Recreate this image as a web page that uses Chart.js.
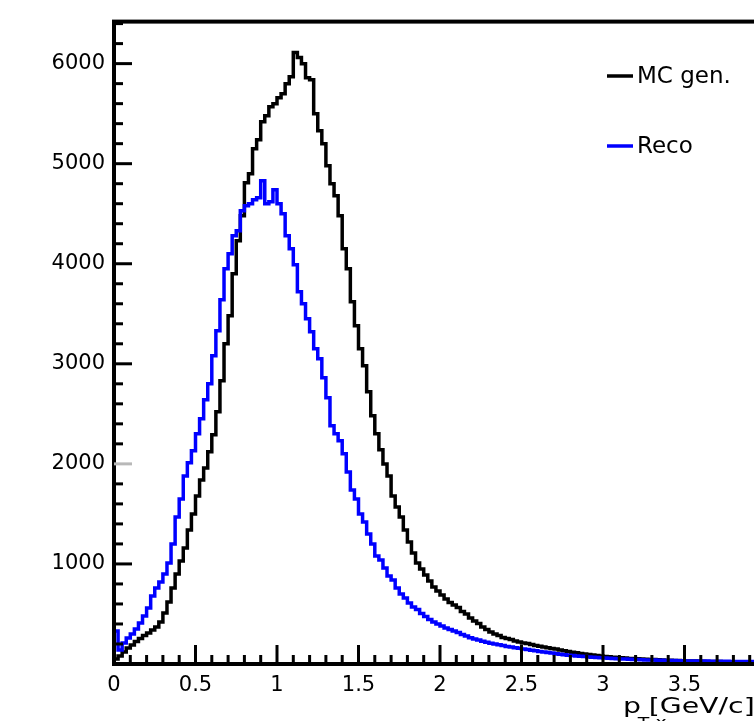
<!DOCTYPE html>
<html>
<head>
<meta charset="utf-8">
<script src="https://cdn.jsdelivr.net/npm/chart.js@4/dist/chart.umd.min.js"></script>
<style>
  html, body { margin: 0; padding: 0; background: #fff; overflow: hidden; width: 754px; height: 721px; }
  #wrap { position: absolute; left: 0; top: 0; width: 800px; height: 721px; }
</style>
</head>
<body>
<div id="wrap"><canvas id="c" width="800" height="721"></canvas></div>
<script>
// Histogram binning: 160 bins of 0.025 GeV/c from 0 to 4
const binWidth = 0.025;
const xMin = 0, xMax = 4;
const yMin = 0, yMax = 6420;

// Bin contents, generated-level spectrum
const mcGen = [
  25, 50, 80, 120, 160, 190, 225, 255, 285, 310,
  340, 370, 420, 510, 620, 760, 900, 1030, 1160, 1340,
  1500, 1680, 1840, 1960, 2120, 2290, 2520, 2830, 3200, 3480,
  3900, 4230, 4480, 4810, 4900, 5150, 5240, 5420, 5480, 5570,
  5600, 5660, 5700, 5800, 5870, 6110, 6060, 6000, 5860, 5840,
  5500, 5330, 5200, 4980, 4800, 4680, 4480, 4150, 3950, 3620,
  3380, 3150, 2980, 2720, 2480, 2300, 2140, 2000, 1880, 1680,
  1570, 1470, 1340, 1220, 1110, 1010, 950, 890, 830, 770,
  730, 690, 650, 615, 590, 565, 525, 500, 460, 430,
  405, 370, 345, 320, 300, 285, 265, 255, 245, 230,
  220, 210, 205, 195, 185, 178, 170, 162, 155, 150,
  140, 132, 125, 118, 112, 105, 100, 95, 90, 85,
  80, 76, 72, 68, 65, 62, 59, 56, 54, 52,
  50, 48, 46, 44, 42, 40, 38, 37, 35, 34,
  32, 31, 30, 29, 28, 27, 26, 25, 24, 24,
  23, 22, 21, 21, 20, 20, 19, 19, 18, 18
];

// Bin contents, reconstructed spectrum
const reco = [
  660, 330, 140, 210, 260, 300, 350, 410, 480, 560,
  680, 760, 820, 900, 1010, 1200, 1470, 1650, 1880, 2010,
  2130, 2300, 2450, 2640, 2800, 3080, 3330, 3640, 3950, 4100,
  4280, 4330, 4530, 4580, 4600, 4640, 4660, 4830, 4600, 4620,
  4740, 4600, 4500, 4280, 4150, 3990, 3720, 3600, 3450, 3320,
  3150, 3050, 2860, 2660, 2380, 2300, 2230, 2100, 1920, 1740,
  1650, 1500, 1420, 1300, 1200, 1080, 1040, 960, 880, 840,
  760, 700, 660, 610, 570, 545, 505, 475, 445, 420,
  400, 380, 360, 345, 330, 315, 295, 280, 262, 250,
  240, 228, 218, 208, 200, 192, 184, 176, 170, 163,
  157, 150, 144, 138, 132, 126, 120, 115, 110, 102,
  97, 92, 88, 84, 80, 77, 74, 71, 68, 65,
  62, 60, 57, 55, 53, 51, 49, 47, 46, 44,
  43, 41, 40, 39, 38, 37, 36, 35, 34, 33,
  32, 31, 31, 30, 30, 29, 29, 28, 28, 27,
  27, 27, 26, 26, 26, 25, 25, 25, 25, 24
];

const seriesLabels = ['MC gen.', 'Reco'];
const yTickValues = [1000, 2000, 3000, 4000, 5000, 6000];
const xTickValues = [0, 0.5, 1, 1.5, 2, 2.5, 3, 3.5];

// Turn bin contents into a step outline: rise from zero at the
// lower edge, one point per bin low edge, then the upper edge.
function histPoints(vals) {
  const pts = [{ x: xMin, y: 0 }];
  vals.forEach((v, i) => pts.push({ x: xMin + i * binWidth, y: v }));
  pts.push({ x: xMin + vals.length * binWidth, y: vals[vals.length - 1] });
  return pts;
}

const FONT = "'DejaVu Sans', sans-serif";

// Frame with inward ticks, drawn over the histograms
const framePlugin = {
  id: 'frame',
  afterDatasetsDraw(chart) {
    const { ctx, chartArea: a, scales } = chart;
    const xs = scales.x, ys = scales.y;
    ctx.save();
    ctx.strokeStyle = '#000';
    ctx.lineWidth = 4;
    ctx.strokeRect(a.left, a.top, a.right - a.left, a.bottom - a.top);
    ctx.lineWidth = 3;
    ctx.lineCap = 'butt';
    for (let k = 0; k * 200 <= yMax; k++) {
      const v = k * 200;
      const y = ys.getPixelForValue(v);
      const len = v % 1000 === 0 ? 18 : 9;
      ctx.strokeStyle = v === 2000 ? '#b8b8b8' : '#000';
      ctx.beginPath();
      ctx.moveTo(a.left, y);
      ctx.lineTo(a.left + len, y);
      ctx.stroke();
    }
    ctx.strokeStyle = '#000';
    for (let k = 0; k <= 40; k++) {
      const x = xs.getPixelForValue(k * 0.1);
      const len = k % 5 === 0 ? 19 : 9;
      ctx.beginPath();
      ctx.moveTo(x, a.bottom);
      ctx.lineTo(x, a.bottom - len);
      ctx.stroke();
    }
    ctx.restore();
  }
};

// Legend entries: short line sample followed by the series name
const legendPlugin = {
  id: 'rootLegend',
  afterDraw(chart) {
    const { ctx } = chart;
    const rows = [76, 146];
    ctx.save();
    ctx.font = '23px ' + FONT;
    ctx.textBaseline = 'middle';
    ctx.textAlign = 'left';
    chart.data.datasets.forEach((ds, i) => {
      const y = rows[i];
      ctx.strokeStyle = ds.borderColor;
      ctx.lineWidth = 3.5;
      ctx.beginPath();
      ctx.moveTo(607, y);
      ctx.lineTo(633, y);
      ctx.stroke();
      ctx.fillStyle = '#000';
      ctx.fillText(ds.label, 637, y + 1);
    });
    ctx.restore();
  }
};

// Axis title with subscript
const xTitlePlugin = {
  id: 'xTitle',
  afterDraw(chart) {
    const { ctx } = chart;
    ctx.save();
    ctx.fillStyle = '#000';
    ctx.textBaseline = 'alphabetic';
    ctx.translate(623, 713);
    ctx.scale(1.35, 1);
    ctx.font = '21px ' + FONT;
    ctx.fillText('p', 0, 0);
    ctx.font = '14px ' + FONT;
    ctx.fillText('T,x', 11, 14);
    ctx.font = '21px ' + FONT;
    ctx.fillText('[GeV/c]', 19, 0);
    ctx.restore();
  }
};

new Chart(document.getElementById('c'), {
  type: 'line',
  data: {
    datasets: [
      {
        label: seriesLabels[0],
        data: histPoints(mcGen),
        borderColor: '#000000',
        borderWidth: 3.5,
        stepped: 'after',
        pointRadius: 0,
        fill: false,
        order: 2
      },
      {
        label: seriesLabels[1],
        data: histPoints(reco),
        borderColor: '#0000ff',
        borderWidth: 3.5,
        stepped: 'after',
        pointRadius: 0,
        fill: false,
        order: 1
      }
    ]
  },
  options: {
    responsive: false,
    animation: false,
    devicePixelRatio: 1,
    layout: { padding: { top: 18, right: 34, left: 0, bottom: 0 } },
    plugins: { legend: { display: false }, tooltip: { enabled: false } },
    scales: {
      x: {
        type: 'linear',
        min: xMin,
        max: xMax,
        grid: { display: false, drawTicks: false },
        border: { display: false },
        afterBuildTicks(scale) { scale.ticks = xTickValues.map(v => ({ value: v })); },
        afterFit(scale) { scale.height = 57; },
        ticks: {
          autoSkip: false,
          maxRotation: 0,
          padding: 9,
          color: '#000',
          font: { family: FONT, size: 21 },
          callback: v => String(v)
        }
      },
      y: {
        type: 'linear',
        min: yMin,
        max: yMax,
        grid: { display: false, drawTicks: false },
        border: { display: false },
        afterBuildTicks(scale) { scale.ticks = yTickValues.map(v => ({ value: v })); },
        afterFit(scale) { scale.width = 114; },
        ticks: {
          autoSkip: false,
          padding: 9,
          color: '#000',
          font: { family: FONT, size: 21 },
          callback: v => String(v)
        }
      }
    }
  },
  plugins: [framePlugin, legendPlugin, xTitlePlugin]
});
</script>
</body>
</html>
